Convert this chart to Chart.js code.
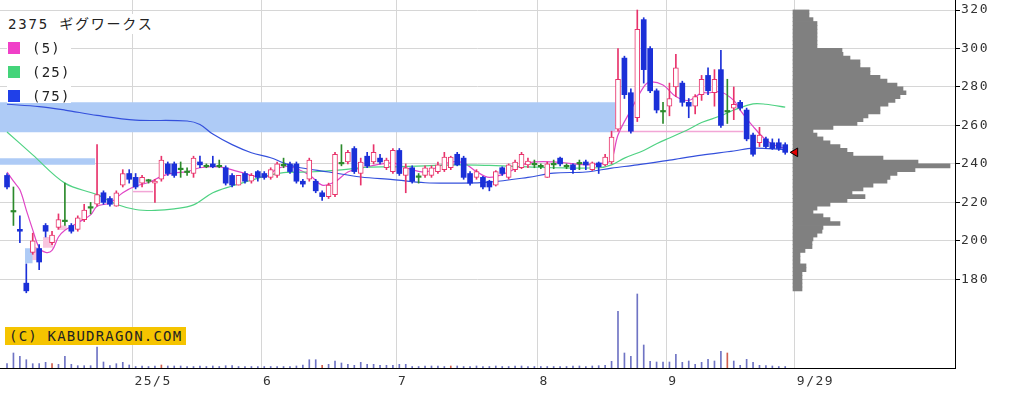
<!DOCTYPE html>
<html><head><meta charset="utf-8">
<script src="https://cdn.jsdelivr.net/npm/chart.js@4.4.1/dist/chart.umd.min.js"></script>
<style>
html,body{margin:0;padding:0;background:#fff;}
#wrap{position:relative;width:1024px;height:399px;overflow:hidden;}
#c{position:absolute;left:0;top:0;}
.ov{position:absolute;font-family:"DejaVu Sans Mono","Noto Sans CJK JP",monospace;color:#222;white-space:nowrap;}
#title{font-size:14px;letter-spacing:1.8px;line-height:18px;background:#fff;padding:1px 3px 1px 3px;}
.lgbg{position:absolute;left:7px;width:64px;height:20px;background:#fff;}
.sq{position:absolute;width:12px;height:12px;}
.lt{font-size:14px;letter-spacing:1.2px;line-height:16px;}
#copy{font-size:14px;letter-spacing:1.2px;line-height:18px;height:18px;background:#f5c400;padding:0 4px;color:#222;}
</style></head>
<body>
<div id="wrap">
<canvas id="c" width="1024" height="399"></canvas>
<div class="ov" id="title" style="left:5px;top:14px;">2375 ギグワークス</div>
<div class="lgbg" style="top:38px"></div>
<div class="sq" style="left:8px;top:42px;background:#f040c8"></div>
<div class="ov lt" style="left:32px;top:40px">(5)</div>
<div class="lgbg" style="top:62px"></div>
<div class="sq" style="left:8px;top:66px;background:#44d47a"></div>
<div class="ov lt" style="left:32px;top:64px">(25)</div>
<div class="lgbg" style="top:85px;height:18px"></div>
<div class="sq" style="left:8px;top:90px;background:#2040e8"></div>
<div class="ov lt" style="left:32px;top:88px">(75)</div>
<div class="ov" id="copy" style="left:5px;top:327px;">(C) KABUDRAGON.COM</div>
</div>
<script>
// ---- axis labels ----
const dateTickPos = [19.5, 39.5, 60.5, 82.5, 102.5, 122.5];
const dateTickLabels = ['25/5', '6', '7', '8', '9', '9/29'];
const priceTicks = [180, 200, 220, 240, 260, 280, 300, 320];

// ---- daily candles (index = trading day) ----
const open = [234,215,206,178,194,196,208,199,207,210,208,206,211,217,219,225,222,218,229,235,
233,230,231,230,232,240,240,237,235.5,235,241,238.5,240,238.5,238,234,229,235,231,236,
235,233,234,239,240,240,231,232,231,225,223,224,240,241,248,235,244,241,243,238,
236,247,234,238,233,234,234,236,237,238,245,243,235,233,233,231,229,238,233,237,
238,239.5,239.5,238.5,233,239.5,243,238.5,239.5,240,241,237,240.5,239.5,241,258,295,277,264,315,
300,278,267,270,280,282,272,270,276,286,277,289,267,269,272,268,255,251,253,251,
251,250];
const high = [235,228,213,188,204,198,209,205,214,230,209,213,219,220,250,226,223,226,237,237,
235,234,232,232,244,241,241,241,238,244,244,240,244,242,239,235,234,236,235,236.5,
236,238,241,243,241,241,232,243,232,226,230,246,250,247,249,243,246,250,245,243,
248,248,240,239,235,239,239,241,246,244,246,244,236,237,233.5,231.5,236.5,238.5,240,242,
246,243,242,240,241,242,243.5,240,240,242,242,241,241,245,257,300,296,279,320,316,
301,279,272,282,297,283,274,276,286,290,289,299,284,280,273,269,256,259,254,253,
253,251];
const low = [227,208,199,173,193,185,202,198,206,208,204,205,210,214,218,219,218,218,228,230,
227,228,230,220,231,234,233,233,234,233,238,238,238,238,229,228,229,230,230,231,
232,232,233,238,235,230,228,231,225,221,222,223,239,240,235,229,238,240,240,237,
235,234,225,230,230,233,233,235,236,237,239,232,229,232,227,226,228.5,234,232,236,
237.5,238,238,237.5,233,237.5,239,237.5,235,237,237,236.5,235,239,240,257,274,256,262,282,
277,266.5,261,265,275,270,264,266,273,276,270,259,261,263,268,252,244,249,248,247.5,
247,245];
const close = [228,215,205,174,200,189,205,203,211,210,205,212,216,217,224,220,219,225,235,232,
228,233,231,231,242,235,234,237,235.5,243,239.5,238.5,238.5,238.5,230,229,234,231,234,233,
233,237,240,239,236,231,229.5,242,226,223,229,245,240,246,236,241,239,246,241,242,
247,235,238,231,233,238,238,239.5,243.5,243.5,239.5,233,230,236,228,228,236,235,239.5,241,
245,241.5,239.5,238.5,240,239.5,240,238.5,237,240,239.5,240.5,238.5,243.5,254,284,276,257,310,289,
278,268,267,274,290,272,270,275,284,278,284,260,267,271,269,253,245,255,249,248,
248,246];

// ---- volume (thousand shares) ----
const volume = [43,150,117,83,43,43,57,43,37,117,37,23,23,23,210,60,23,43,57,30,
15,20,15,20,30,20,20,20,15,15,20,15,20,15,23,23,15,15,15,15,
15,15,15,15,15,20,30,83,83,27,37,70,50,37,27,57,37,37,27,27,
27,37,37,15,15,20,20,20,15,20,20,15,15,20,15,15,20,15,15,20,
20,15,15,15,15,15,15,15,20,20,15,20,23,27,67,567,150,117,740,230,
67,60,60,60,137,57,70,37,57,87,70,167,150,70,27,87,57,27,23,20,
15,15];
const volRedDays = [7, 24, 49, 69, 112];

// ---- moving averages: [day index, price] ----
const ma5 = [[0,235.8],[1,231],[2,226.5],[3,216],[4,205.7],[5,196.4],[6,194],[7,195],[8,202],[9,205.5],
[11,209.4],[13,213.5],[14,218],[16,219.7],[18,225],[20,228.5],[22,230.3],[24,233.5],[26,235.3],[28,236],
[30,238],[33,238.5],[36,236],[40,233],[42,237.5],[44,238.5],[47,234.3],[49,229],[51,230.7],[53,235.8],
[56,238.5],[60,240.5],[62,238],[65,235.8],[67,238.5],[69,241],[71,240.5],[73,236],[75,233],[78,235.8],
[81,240.5],[85,241],[90,239.5],[93,240.5],[94,242],[95,255],[97,268],[99,280],[100,282.6],[102,281],
[104,275],[106,273],[108,276.9],[109,276.9],[111,277.4],[113,273],[114,268],[116,259.5],[118,252.5],[120,248.8],[121,248.3]];
const ma25 = [[0,256.6],[4,244.7],[9,230],[14,224],[17,219],[20,216.3],[23,215.8],[26,216.6],[29,218.7],[32,225],
[35,228.5],[38,231.5],[40,233.5],[43,235.5],[47,235.8],[52,236.9],[56,238.3],[60,238.5],[65,239],[70,239.5],
[75,239.2],[81,238.5],[85,238],[92,238],[94,239.5],[96,243],[99,247],[101,250.5],[103,253.5],[106,258],
[108,261.5],[111,265],[113,268],[116,271.2],[118,271],[121,269.5]];
const ma75 = [[0,271],[5,269.8],[9,268],[14,265.2],[20,262.8],[28,262.3],[30,260.5],[32,255.5],[35,250],[38,245.8],
[41,243.2],[43,240.5],[45,238.4],[50,235.8],[55,233.2],[60,231.8],[65,230.2],[70,230],[75,230.5],[81,233],
[85,235.2],[90,235.8],[94,237.8],[98,239.5],[103,242],[108,244.6],[113,246.7],[116,248.2],[121,247.4]];

// ---- volume by price profile ----
const profilePrice = [319,317,315,313,311,309,307,305,303,301,299,297,295,293,291,289,287,285,283,281,
279,277,275,273,271,269,267,265,263,261,259,257,255,253,251,249,247,245,243,241,
239,237,235,233,231,229,227,225,223,221,219,217,215,213,211,209,207,205,203,201,
199,197,195,193,191,189,187,185,183,181,179,177,175];
const profileVol = [16,16,20,24,24,24,24,24,24,24,49,50,57,67,67,77,77,87,94,104,
110,113,107,102,95,87,87,75,70,64,40,20,24,30,37,47,54,60,90,125,
157,122,104,97,94,80,70,59,72,54,37,24,20,30,37,47,30,29,24,20,
19,19,12,7,7,7,13,13,9,9,9,9,9];

// ---- shaded zones (day index range, price range) ----
const zoneFrom = [-2, -2, 2.8, 3.9, 5.6, 7.8];
const zoneTo = [94.6, 13.7, 4.0, 4.8, 7.2, 9.3];
const zoneLow = [256.5, 239.5, 188.4, 190, 196.4, 205.7];
const zoneHigh = [272, 243, 196.2, 196.8, 202, 208];
const zoneKind = ['blue', 'blue', 'blue', 'pink', 'pink', 'pink'];

// ---- marker lines and last price marker ----
const markFrom = [94.2, 19.6];
const markTo = [114.5, 22.7];
const markLevel = [256.8, 225.6];
const lastMarker = [122.55, 246];

const UP = '#e8336b', DOWN = '#1b30d8', DOJI = '#2b8a2b';
const candleColor = i => close[i] > open[i] ? UP : (close[i] < open[i] ? DOWN : DOJI);

const datasets = [];
zoneFrom.forEach((f, k) => {
  datasets.push({
    type: 'line', order: 20,
    data: [{x: f, y: zoneHigh[k]}, {x: zoneTo[k], y: zoneHigh[k]}],
    borderWidth: 0, pointRadius: 0,
    backgroundColor: zoneKind[k] === 'blue' ? '#aecbf6' : '#f8c6de',
    fill: {value: zoneLow[k]}
  });
});
datasets.push({
  type: 'bar', order: 9, grouped: false, xAxisID: 'x', yAxisID: 'yv',
  data: volume.map((v, i) => ({x: i, y: v})),
  barThickness: 1,
  backgroundColor: ctx => volRedDays.includes(ctx.dataIndex) ? '#d0604f' : '#6f74c4'
});
datasets.push({
  type: 'bar', order: 8, grouped: false, indexAxis: 'y', xAxisID: 'xh', yAxisID: 'y',
  data: profilePrice.map((p, i) => ({x: profileVol[i], y: p})),
  barThickness: 4, backgroundColor: '#808080'
});
markFrom.forEach((f, k) => {
  datasets.push({
    type: 'line', order: 6,
    data: [{x: f, y: markLevel[k]}, {x: markTo[k], y: markLevel[k]}],
    borderColor: '#f2a6d6', borderWidth: 1.5, pointRadius: 0, fill: false
  });
});
[[ma75, '#3450dc'], [ma25, '#4fd283'], [ma5, '#e046c6']].forEach(([arr, col]) => {
  datasets.push({
    type: 'line', order: 4,
    data: arr.map(([x, y]) => ({x, y})),
    borderColor: col, borderWidth: 1.2, pointRadius: 0, tension: 0.35, fill: false
  });
});
datasets.push({
  type: 'bar', order: 2, grouped: false,
  data: low.map((l, i) => ({x: i, y: [low[i], high[i]]})),
  barThickness: 1,
  backgroundColor: ctx => candleColor(ctx.dataIndex)
});
datasets.push({
  type: 'bar', order: 1, grouped: false,
  data: open.map((o, i) => ({x: i, y: [open[i], close[i]]})),
  barThickness: 5, minBarLength: 1.5, borderSkipped: false,
  backgroundColor: ctx => close[ctx.dataIndex] > open[ctx.dataIndex] ? '#ffffff' : candleColor(ctx.dataIndex),
  borderColor: ctx => candleColor(ctx.dataIndex),
  borderWidth: ctx => close[ctx.dataIndex] > open[ctx.dataIndex] ? 1 : 0
});
datasets.push({
  type: 'line', order: 0, showLine: false,
  data: [{x: lastMarker[0], y: lastMarker[1]}],
  pointStyle: 'triangle', rotation: -90, pointRadius: 5,
  backgroundColor: '#e00000', borderColor: '#000', borderWidth: 1
});

const spacing = {
  id: 'spacing',
  beforeDraw(chart) { chart.ctx.letterSpacing = '1.5px'; },
  afterDraw(chart) { chart.ctx.letterSpacing = '0px'; }
};

const tickFont = {family: "'DejaVu Sans Mono', monospace", size: 13};

new Chart(document.getElementById('c'), {
  type: 'line',
  data: {datasets},
  plugins: [spacing],
  options: {
    responsive: false, animation: false, events: [],
    layout: {padding: 0, autoPadding: false},
    plugins: {legend: {display: false}, tooltip: {enabled: false}},
    scales: {
      x: {
        type: 'linear', min: -1.09, max: 147.4, offset: false, bounds: 'data',
        grid: {color: '#d6d6d6', drawTicks: false, offset: false},
        border: {color: '#000', width: 1},
        afterBuildTicks: s => { s.ticks = dateTickPos.map(v => ({value: v})); },
        ticks: {autoSkip: false, maxRotation: 0, align: 'start', labelOffset: 2, padding: 6,
                color: '#333', font: tickFont, callback: (v, i) => dateTickLabels[i]},
        afterFit: s => { s.height = 31; s.paddingLeft = 0; s.paddingRight = 0; }
      },
      y: {
        type: 'linear', position: 'right', min: 133.9, max: 325.2, offset: false, bounds: 'data',
        beginAtZero: false,
        grid: {color: '#d6d6d6', tickLength: 5, tickColor: '#000', offset: false},
        border: {color: '#000', width: 1},
        afterBuildTicks: s => { s.ticks = priceTicks.map(v => ({value: v})); },
        ticks: {padding: 1, color: '#333', font: tickFont},
        afterFit: s => { s.width = 69; s.paddingTop = 0; s.paddingBottom = 0; }
      },
      yv: {type: 'linear', axis: 'y', display: false, min: 0, max: 3680, offset: false},
      xh: {type: 'linear', axis: 'x', display: false, min: -793, max: 162, offset: false}
    }
  }
});
</script>
</body></html>
